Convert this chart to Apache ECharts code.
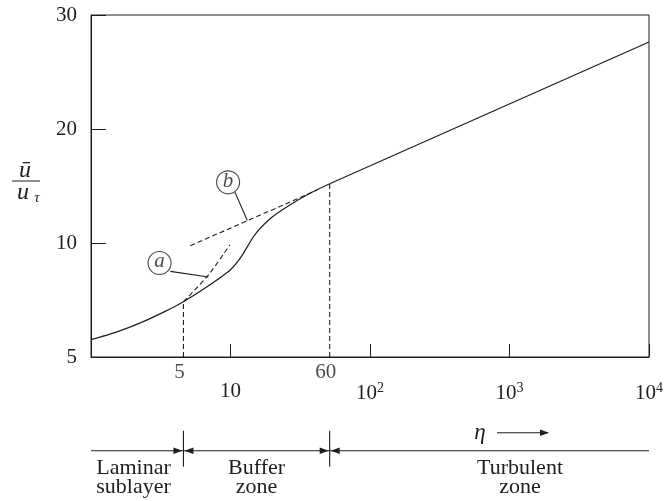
<!DOCTYPE html>
<html><head><meta charset="utf-8">
<script src="https://cdn.jsdelivr.net/npm/echarts@6/dist/echarts.min.js"></script>
<style>html,body{margin:0;padding:0;background:#fff}#c{width:666px;height:501px}</style>
</head><body><div id="c"></div>
<script>
// ---- data ----
const yTickValues = [0, 10, 20, 30];
const yTickLabels = ['5', '10', '20', '30'];
const xTickValues = [10, 100, 1000, 10000];
const xTickLabels = ['{n|10}', '{n|10}{s|2}', '{n|10}{s|3}', '{n|10}{s|4}'];
// profile through the laminar sublayer and buffer zone
const etaCurve = [1, 1.5, 2.26, 3.4, 4.6, 6.58, 10, 11.95, 14.87, 19.5, 25.6, 37.4, 51.4];
const uCurve   = [1.52, 2.16, 2.99, 4.0, 4.85, 6.05, 7.66, 8.8, 10.7, 12.19, 13.21, 14.39, 15.2];
// straight logarithmic law in the turbulent zone
const etaLog = [51.4, 10000];
const uLog   = [15.2, 27.63];
const etaDashA = [4.6, 7.0, 9.9];
const uDashA   = [4.85, 7.25, 9.85];
const etaDashB = [5.15, 41.8];
const uDashB   = [9.76, 14.64];
const etaBounds = [4.6, 51.4];
const uBounds   = [4.85, 15.2];
const boundLabels = ['5', '60'];
const calloutNames = ['a', 'b'];
const calloutEta = [3.10, 9.61];
const calloutU   = [8.25, 15.32];
const leaderEtaA = [3.71, 6.94];
const leaderUA   = [7.51, 7.02];
const leaderEtaB = [10.7, 13.2];
const leaderUB   = [14.53, 11.98];
const zoneLabels = ['Laminar\nsublayer', 'Buffer\nzone', 'Turbulent\nzone'];
const etaSymbol = 'η';

const FONT = '"Liberation Serif","Times New Roman",serif';
const INK = '#1e1e1e';
const zip = (a, b) => a.map((v, i) => [v, b[i]]);

const chart = echarts.init(document.getElementById('c'), null, {renderer: 'canvas'});

const series = [
  {type: 'line', data: zip(etaCurve, uCurve), showSymbol: false, smooth: 0.2,
   lineStyle: {color: INK, width: 1.2}, silent: true},
  {type: 'line', data: zip(etaLog, uLog), showSymbol: false, smooth: false,
   lineStyle: {color: INK, width: 1.2}, silent: true},
  {type: 'line', data: zip(etaDashA, uDashA), showSymbol: false, smooth: 0.3,
   lineStyle: {color: INK, width: 1.1, type: [5, 3]}, silent: true},
  {type: 'line', data: zip(etaDashB, uDashB), showSymbol: false,
   lineStyle: {color: INK, width: 1.1, type: [5, 3]}, silent: true},
  {type: 'line', data: zip(leaderEtaA, leaderUA), showSymbol: false,
   lineStyle: {color: INK, width: 1.1}, silent: true},
  {type: 'line', data: zip(leaderEtaB, leaderUB), showSymbol: false,
   lineStyle: {color: INK, width: 1.1}, silent: true}
];
etaBounds.forEach((e, i) => {
  series.push({type: 'line', data: [[e, 0], [e, uBounds[i]]], showSymbol: false,
    lineStyle: {color: INK, width: 1.1, type: [5, 3]}, silent: true});
});
series.push({type: 'scatter', data: etaBounds.map(e => [e, 0]), symbolSize: 0.01, clip: false, silent: true,
  label: {show: true, position: 'bottom', distance: 5, offset: [-4, 0],
    formatter: p => boundLabels[p.dataIndex], fontFamily: FONT, fontSize: 21, color: INK}});
series.push({type: 'scatter', data: zip(calloutEta, calloutU), symbol: 'circle', symbolSize: 23, silent: true,
  itemStyle: {color: '#fff', borderColor: INK, borderWidth: 1.1}, z: 5,
  label: {show: true, position: 'inside', formatter: p => calloutNames[p.dataIndex],
    fontFamily: FONT, fontStyle: 'italic', fontSize: 21, color: INK, offset: [0, -1]}});

chart.setOption({
  animation: false,
  grid: {left: 91, right: 10, top: 15, bottom: 144, show: true, borderColor: INK, borderWidth: 1, backgroundColor: 'transparent'},
  xAxis: {type: 'log', logBase: 10, min: 1, max: 10000,
    axisLine: {lineStyle: {color: INK, width: 1}},
    axisTick: {inside: true, length: 13, lineStyle: {color: INK}},
    minorTick: {show: false}, splitLine: {show: false},
    axisLabel: {margin: 24, color: INK, hideOverlap: false, showMinLabel: true, showMaxLabel: true,
      formatter: v => { const i = xTickValues.findIndex(t => Math.abs(v - t) / t < 1e-6); return i >= 0 ? xTickLabels[i] : ''; },
      rich: {n: {fontFamily: FONT, fontSize: 21, color: INK},
             s: {fontFamily: FONT, fontSize: 14, color: INK, padding: [0, 0, 11, 0]}}}},
  yAxis: {type: 'value', min: 0, max: 30, interval: 10,
    axisLine: {show: true, lineStyle: {color: INK, width: 1}},
    axisTick: {show: true, inside: true, length: 15, lineStyle: {color: INK}},
    splitLine: {show: false},
    axisLabel: {margin: 14, fontFamily: FONT, fontSize: 21, color: INK,
      formatter: v => yTickLabels[yTickValues.indexOf(v)]}},
  series: series
});

// ---- annotations below the axis, placed from the axis scale ----
const px = e => chart.convertToPixel({xAxisIndex: 0}, e);
const xL = px(1), xR = px(10000), b1 = px(etaBounds[0]), b2 = px(etaBounds[1]);
const yLine = 450.7;
const head = (x, y, dir) => ({type: 'polygon', shape: {points: [[x, y], [x - dir * 9, y - 3.2], [x - dir * 9, y + 3.2]]}, style: {fill: INK}});
const seg = (x1, y1, x2, y2, w) => ({type: 'line', shape: {x1, y1, x2, y2}, style: {stroke: INK, lineWidth: w || 1.1}});
const txt = (t, x, y, extra) => ({type: 'text', x, y, style: Object.assign({text: t, fontFamily: FONT, fontSize: 22, fill: INK, align: 'center', verticalAlign: 'middle', lineHeight: 19}, extra || {})});

const g = [
  seg(xL, yLine, xR, yLine),
  seg(b1, 430.7, b1, 466.7),
  seg(b2, 430.7, b2, 466.7),
  head(b1 - 1, yLine, 1), head(b1 + 1, yLine, -1),
  head(b2 - 1, yLine, 1), head(b2 + 1, yLine, -1),
  txt(zoneLabels[0], 133.5, 478),
  txt(zoneLabels[1], (b1 + b2) / 2, 478),
  txt(zoneLabels[2], 520, 478),
  txt(etaSymbol, 480, 433, {fontStyle: 'italic', fontSize: 23}),
  seg(497, 432.7, 548, 432.7),
  head(549, 432.7, 1),
  // y-axis name: u-bar over u_tau
  txt('ū', 25, 171, {fontStyle: 'italic', fontSize: 24}),
  seg(12, 181, 40, 181, 1),
  txt('u', 23, 193, {fontStyle: 'italic', fontSize: 24}),
  txt('τ', 37, 198, {fontStyle: 'italic', fontSize: 15})
];
chart.setOption({graphic: {elements: g}});
</script></body></html>
